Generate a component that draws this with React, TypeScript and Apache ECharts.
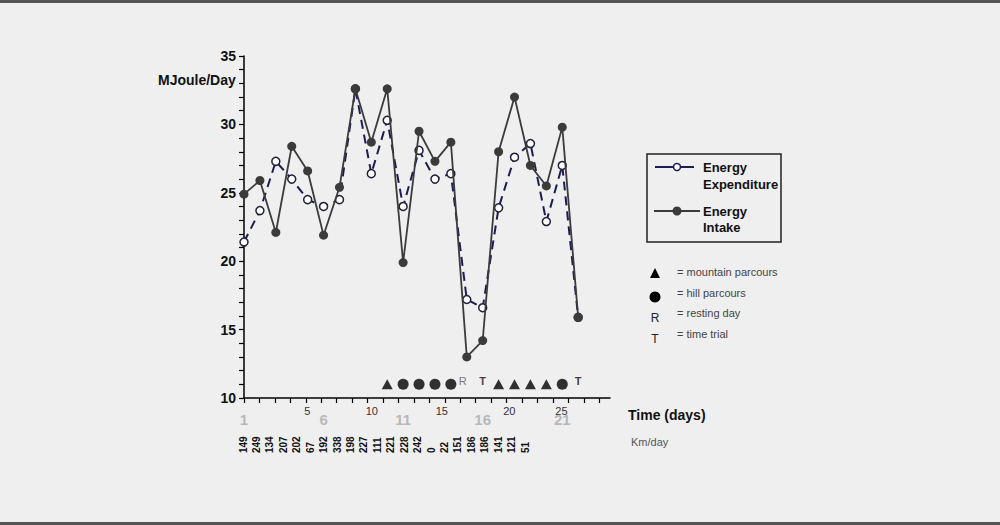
import React, { useEffect, useRef } from "react";
import * as echarts from "echarts";

// ---- data ----
const dayCategories = ["1","2","3","4","5","6","7","8","9","10","11","12","13","14","15","16","17","18","19","20","21","22","23","24"];
const energyIntake = [24.9, 25.9, 22.1, 28.4, 26.6, 21.9, 25.4, 32.6, 28.7, 32.6, 19.9, 29.5, 27.3, 28.7, 13.0, 14.2, 28.0, 32.0, 27.0, 25.5, 29.8, 15.9];
const energyExpenditure = [21.4, 23.7, 27.3, 26.0, 24.5, 24.0, 24.5, 32.6, 26.4, 30.3, 24.0, 28.1, 26.0, 26.4, 17.2, 16.6, 23.9, 27.6, 28.6, 22.9, 27.0, 15.9];
const kmPerDay = ["149","249","134","207","202","67","192","338","198","227","111","221","228","242","0","22","151","186","186","141","121","51"];
const eventDays = [10, 11, 12, 13, 14, 15, 16, 17, 18, 19, 20, 21, 22];
const eventTypes = ["mountain","hill","hill","hill","hill","rest","trial","mountain","mountain","mountain","mountain","hill","trial"];
const eventLevel = 11;
const tickValues = [1,2,3,4,5,6,7,8,9,10,11,12,13,14,15,16,17,18,19,20,21,22,23,24];
const overlayTickLabels = ["5","10","15","20","25"];
const overlayTickValues = [5.1, 9.27, 13.8, 18.17, 21.55];
const eventLegendLabels = ["= mountain parcours","= hill parcours","= resting day","= time trial"];

const FONT = "'Liberation Sans', Arial, Helvetica, sans-serif";
const INTAKE_COLOR = "#3b3b3b";
const EXP_COLOR = "#1c1c55";

function eventItem(day: number, type: string) {
  const base: any = { value: [day - 1, eventLevel] };
  if (type === "mountain") {
    return { ...base, symbol: "triangle", symbolSize: [11, 10], itemStyle: { color: "#000" } };
  }
  if (type === "hill") {
    return { ...base, symbol: "circle", symbolSize: 11, itemStyle: { color: "#000" } };
  }
  const letter = type === "rest" ? "R" : "T";
  return {
    ...base,
    symbol: "circle",
    symbolSize: 1,
    itemStyle: { color: "rgba(0,0,0,0)" },
    label: {
      show: true,
      position: "inside",
      formatter: letter,
      offset: [type === "rest" ? -4 : 0, -3],
      color: type === "rest" ? "#555" : "#111",
      fontWeight: type === "rest" ? "normal" : "bold",
      fontSize: 11,
      fontFamily: FONT,
    },
  };
}

export default function App() {
  const ref = useRef<HTMLDivElement>(null);
  useEffect(() => {
    document.body.style.margin = "0";
    const chart = echarts.init(ref.current!, null, { renderer: "svg" });
    const option: any = {
      animation: false,
      backgroundColor: "#efefef",
      textStyle: { fontFamily: FONT },
      grid: [
        { left: 244, top: 56, width: 366, height: 342 },
        { left: 236.3, top: 455, width: 295.5, height: 10 },
      ],
      xAxis: [
        {
          type: "category",
          gridIndex: 0,
          data: dayCategories,
          boundaryGap: false,
          axisLine: { show: false },
          axisTick: { show: false },
          splitLine: { show: false },
          axisLabel: {
            interval: (i: number) => i % 5 === 0,
            color: "#b8b8b8",
            fontSize: 15,
            fontWeight: "bold",
            margin: 14,
            fontFamily: FONT,
          },
        },
        {
          type: "value",
          gridIndex: 0,
          position: "bottom",
          min: 1,
          max: 24.69,
          axisLine: { show: true, onZero: false, lineStyle: { color: "#000", width: 1.5 } },
          axisTick: { show: true, customValues: tickValues, length: 5, lineStyle: { color: "#000", width: 1.2 } },
          splitLine: { show: false },
          axisLabel: {
            customValues: overlayTickValues,
            formatter: (v: number) => {
              let best = 0;
              overlayTickValues.forEach((t, i) => {
                if (Math.abs(t - v) < Math.abs(overlayTickValues[best] - v)) best = i;
              });
              return overlayTickLabels[best];
            },
            color: "#333",
            fontSize: 11,
            margin: 7,
            fontFamily: FONT,
          },
        },
        {
          type: "category",
          gridIndex: 1,
          position: "top",
          data: kmPerDay,
          axisLine: { show: false },
          axisTick: { show: false },
          splitLine: { show: false },
          axisLabel: {
            interval: 0,
            rotate: 90,
            margin: 2,
            fontSize: 10,
            fontWeight: "bold",
            color: "#111",
            fontFamily: FONT,
          },
        },
      ],
      yAxis: [
        {
          type: "value",
          gridIndex: 0,
          min: 10,
          max: 35,
          interval: 5,
          axisLine: { show: true, lineStyle: { color: "#000", width: 1.5 } },
          axisTick: { show: true, length: 5, lineStyle: { color: "#000", width: 1.2 } },
          minorTick: { show: true, splitNumber: 5, length: 5, lineStyle: { color: "#000", width: 1.2 } },
          splitLine: { show: false },
          minorSplitLine: { show: false },
          axisLabel: { color: "#111", fontSize: 14, fontWeight: "bold", margin: 8, fontFamily: FONT },
        },
        { type: "value", gridIndex: 1, show: false, min: 0, max: 1 },
      ],
      series: [
        {
          name: "Energy Expenditure",
          type: "line",
          xAxisIndex: 0,
          yAxisIndex: 0,
          data: energyExpenditure,
          symbol: "circle",
          symbolSize: 8,
          itemStyle: { color: "#fff", borderColor: "#20203a", borderWidth: 1.5 },
          lineStyle: { color: EXP_COLOR, width: 2, type: [9, 6] },
          z: 2,
        },
        {
          name: "Energy Intake",
          type: "line",
          xAxisIndex: 0,
          yAxisIndex: 0,
          data: energyIntake,
          symbol: "circle",
          symbolSize: 9,
          itemStyle: { color: INTAKE_COLOR },
          lineStyle: { color: INTAKE_COLOR, width: 1.8 },
          z: 3,
        },
        {
          name: "Events",
          type: "scatter",
          xAxisIndex: 0,
          yAxisIndex: 0,
          data: eventDays.map((d, i) => eventItem(d, eventTypes[i])),
          z: 4,
        },
      ],
      graphic: [
        { type: "rect", shape: { x: 0, y: 0, width: 1000, height: 3 }, style: { fill: "#555" } },
        { type: "rect", shape: { x: 0, y: 522, width: 1000, height: 3 }, style: { fill: "#555" } },
        { type: "text", x: 158, y: 80, style: { text: "MJoule/Day", fill: "#111", font: `bold 14px ${FONT}`, align: "left", verticalAlign: "middle" } },
        { type: "text", x: 628, y: 415, style: { text: "Time (days)", fill: "#111", font: `bold 14px ${FONT}`, align: "left", verticalAlign: "middle" } },
        { type: "text", x: 631, y: 442, style: { text: "Km/day", fill: "#555", font: `11px ${FONT}`, align: "left", verticalAlign: "middle" } },
        // legend box
        { type: "rect", shape: { x: 647, y: 154, width: 134, height: 88 }, style: { fill: "none", stroke: "#222", lineWidth: 1.5 } },
        { type: "line", shape: { x1: 655, y1: 167, x2: 694, y2: 167 }, style: { stroke: EXP_COLOR, lineWidth: 2 } },
        { type: "circle", shape: { cx: 677, cy: 167, r: 3.5 }, style: { fill: "#fff", stroke: EXP_COLOR, lineWidth: 1.5 } },
        { type: "text", x: 703, y: 175.5, style: { text: "Energy\nExpenditure", fill: "#111", font: `bold 13px ${FONT}`, lineHeight: 17, align: "left", verticalAlign: "middle" } },
        { type: "line", shape: { x1: 654, y1: 211, x2: 700, y2: 211 }, style: { stroke: INTAKE_COLOR, lineWidth: 2 } },
        { type: "circle", shape: { cx: 677, cy: 211, r: 4.5 }, style: { fill: INTAKE_COLOR } },
        { type: "text", x: 703, y: 219, style: { text: "Energy\nIntake", fill: "#111", font: `bold 13px ${FONT}`, lineHeight: 16, align: "left", verticalAlign: "middle" } },
        // event key
        { type: "polygon", shape: { points: [[650, 278], [660, 278], [655, 268]] }, style: { fill: "#000" } },
        { type: "circle", shape: { cx: 655, cy: 297, r: 5.5 }, style: { fill: "#000" } },
        { type: "text", x: 655, y: 318, style: { text: "R", fill: "#222", font: `12px ${FONT}`, align: "center", verticalAlign: "middle" } },
        { type: "text", x: 655, y: 339, style: { text: "T", fill: "#222", font: `12px ${FONT}`, align: "center", verticalAlign: "middle" } },
        ...eventLegendLabels.map((t, i) => ({
          type: "text",
          x: 677,
          y: 272 + i * 20.5,
          style: { text: t, fill: "#444", font: `11px ${FONT}`, align: "left", verticalAlign: "middle" },
        })),
      ],
    };
    chart.setOption(option);
    return () => chart.dispose();
  }, []);
  return <div ref={ref} style={{ width: 1000, height: 525 }} />;
}
